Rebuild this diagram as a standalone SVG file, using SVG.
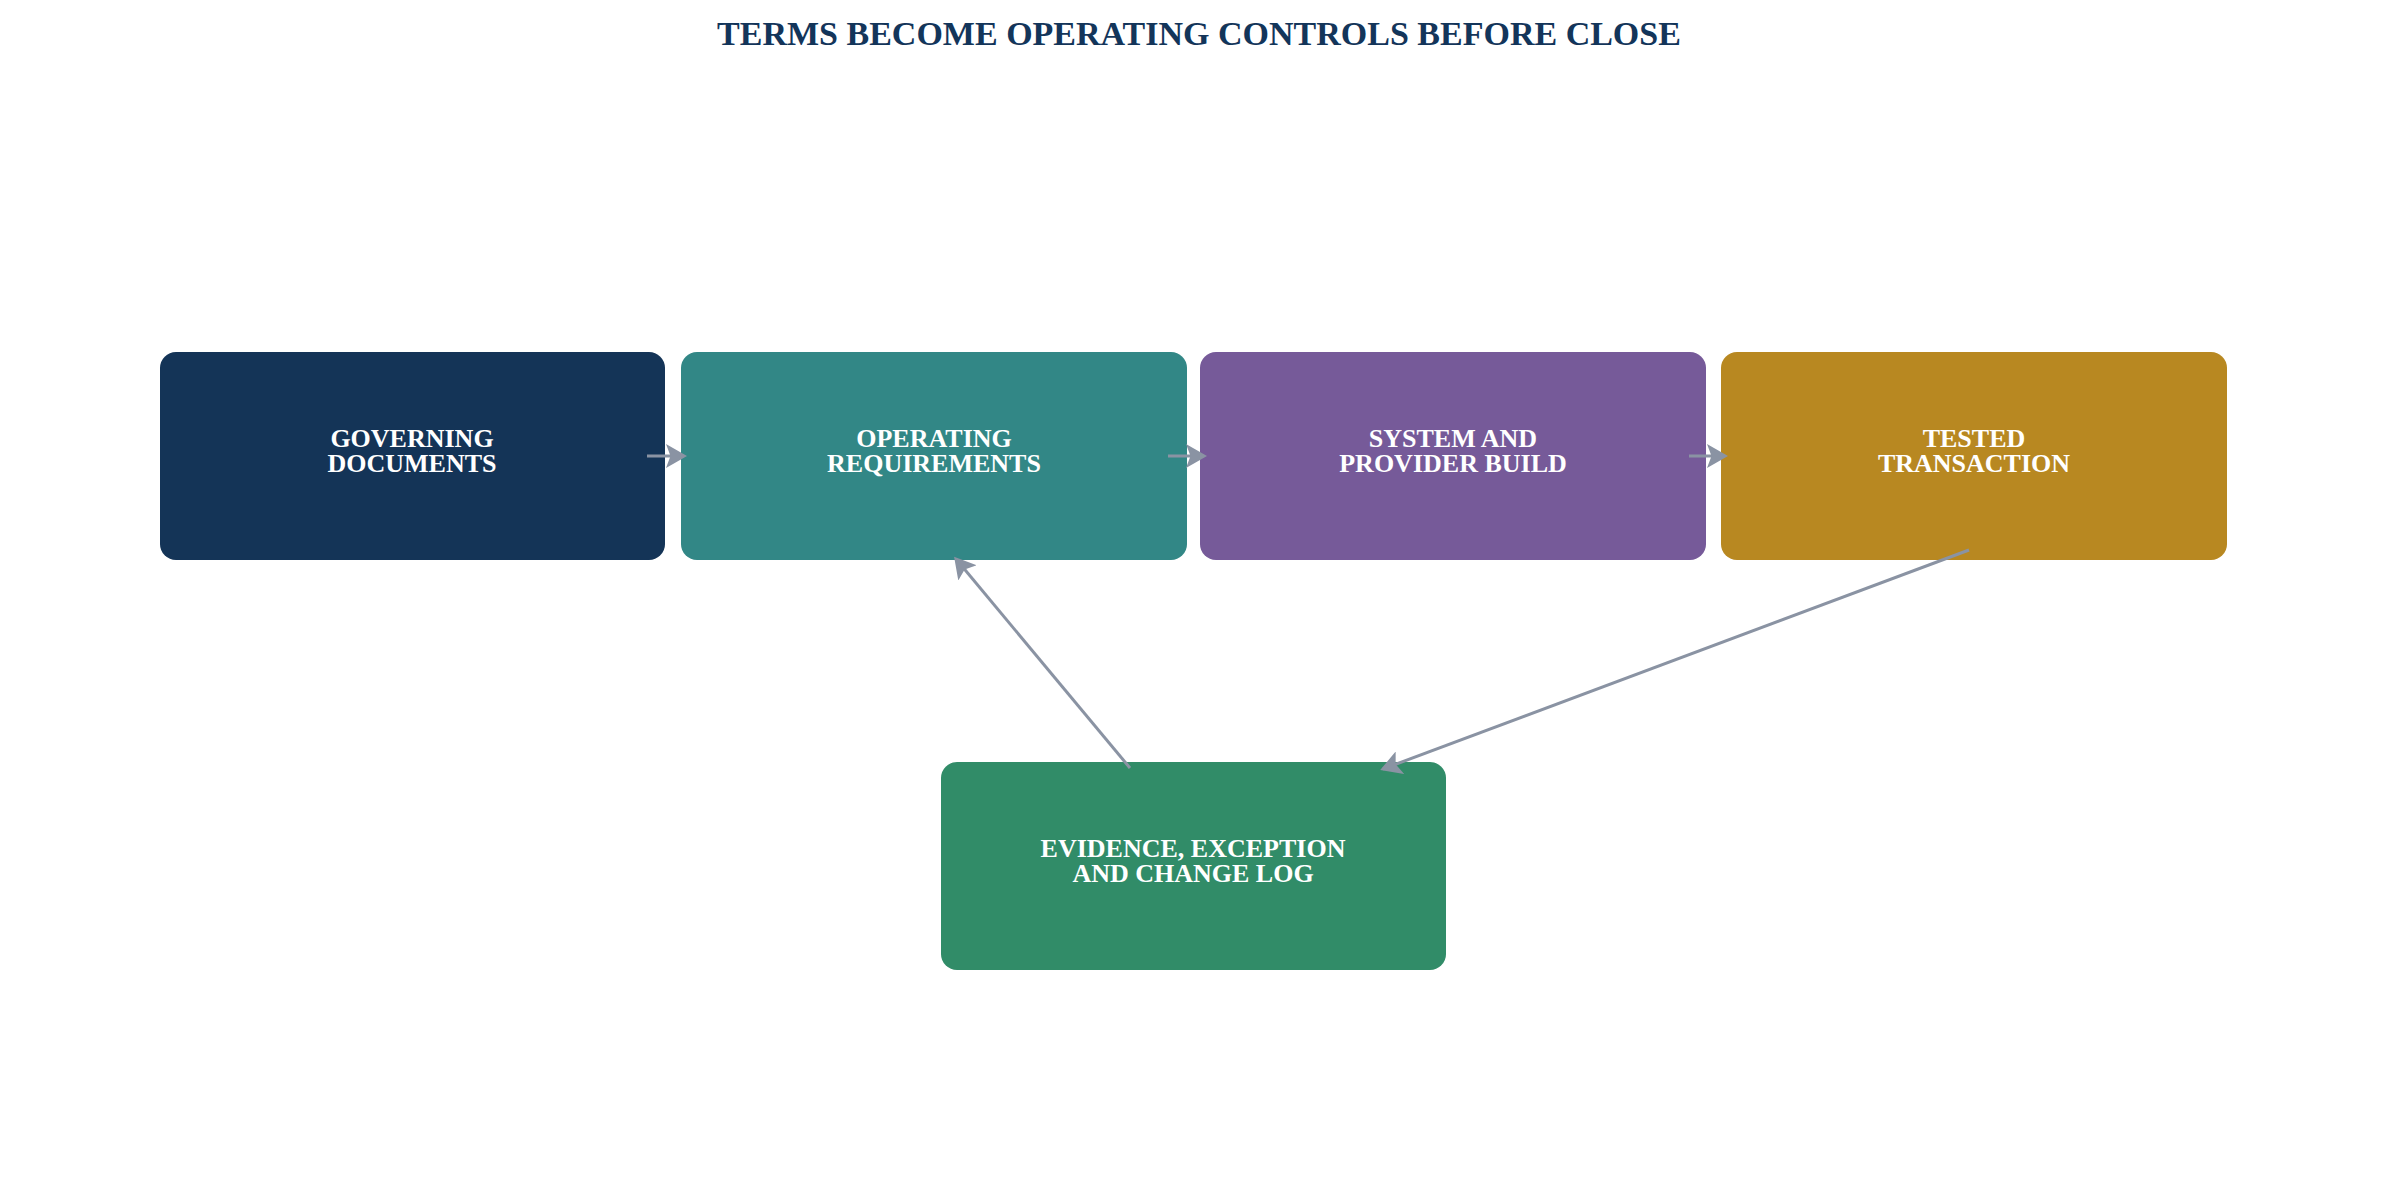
<svg xmlns="http://www.w3.org/2000/svg" width="2397" height="1189" viewBox="0 0 2397 1189">
<style>
.t{font-family:"Liberation Serif",serif;font-weight:bold;fill:#fff;font-size:26px;text-anchor:middle}
.c{stroke:#8a93a3;stroke-width:3;fill:none;marker-end:url(#a)}
</style>
<defs><marker id="a" markerWidth="8" markerHeight="8" refX="6" refY="4" orient="auto" markerUnits="strokeWidth"><path d="M0,0 L7,4 L0,8 L1.5,4 Z" fill="#8a93a3"/></marker></defs>
<rect width="2397" height="1189" fill="#fff"/>
<text x="1199" y="45" style="font-family:'Liberation Serif',serif;font-weight:bold;font-size:34px;fill:#13355a;text-anchor:middle">TERMS BECOME OPERATING CONTROLS BEFORE CLOSE</text>
<g id="n1"><rect x="160" y="352" width="505" height="208" rx="16" fill="#143457"/><text class="t" x="412" y="447">GOVERNING</text><text class="t" x="412" y="472">DOCUMENTS</text></g>
<g id="n2"><rect x="681" y="352" width="506" height="208" rx="16" fill="#328786"/><text class="t" x="934" y="447">OPERATING</text><text class="t" x="934" y="472">REQUIREMENTS</text></g>
<g id="n3"><rect x="1200" y="352" width="506" height="208" rx="16" fill="#765a99"/><text class="t" x="1453" y="447">SYSTEM AND</text><text class="t" x="1453" y="472">PROVIDER BUILD</text></g>
<g id="n4"><rect x="1721" y="352" width="506" height="208" rx="16" fill="#b88821"/><text class="t" x="1974" y="447">TESTED</text><text class="t" x="1974" y="472">TRANSACTION</text></g>
<g id="n5"><rect x="941" y="762" width="505" height="208" rx="16" fill="#318c68"/><text class="t" x="1193" y="857">EVIDENCE, EXCEPTION</text><text class="t" x="1193" y="882">AND CHANGE LOG</text></g>
<g id="connectors">
<line class="c" x1="647" y1="456" x2="684" y2="456"/>
<line class="c" x1="1168" y1="456" x2="1204" y2="456"/>
<line class="c" x1="1689" y1="456" x2="1725" y2="456"/>
<line class="c" x1="1130" y1="768" x2="956" y2="559"/>
<line class="c" x1="1969" y1="550" x2="1383" y2="769"/>
</g>
</svg>
